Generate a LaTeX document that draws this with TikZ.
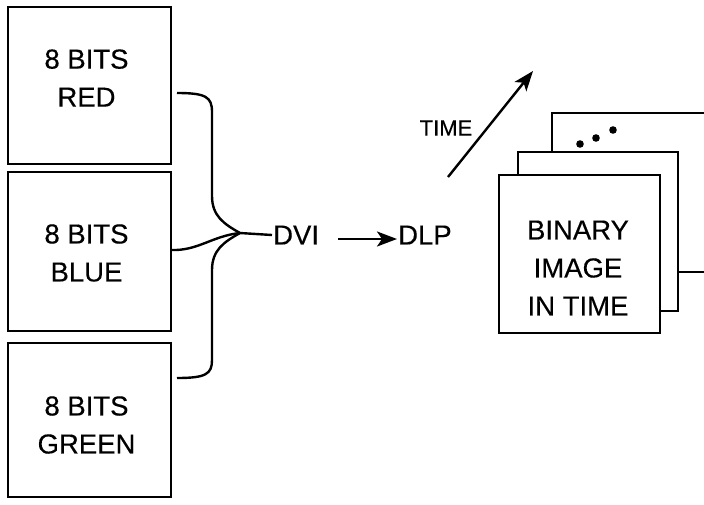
\documentclass[tikz,border=0pt]{standalone}
\usepackage{fontspec}
\setmainfont{Liberation Sans}[FakeBold=0.3]
\usetikzlibrary{arrows.meta}
\begin{document}
\begin{tikzpicture}[x=1pt,y=-1pt,line width=2.4pt,
  box/.style={draw,fill=white,line width=2.4pt},
  lbl/.style={font=\fontsize{27.5}{38}\selectfont,align=center,inner sep=0pt},
  arr/.style={-{Stealth[length=20pt,width=15pt,inset=5pt]},line width=2.4pt}]
\useasboundingbox (0,0) rectangle (704,504);
\clip (0,0) rectangle (704,504);
% left boxes
\node[box,minimum width=163pt,minimum height=157pt,inner sep=0pt] (red) at (89.5,85.5) {};
\node[box,minimum width=163pt,minimum height=159pt,inner sep=0pt] (blue) at (89.5,251.5) {};
\node[box,minimum width=163pt,minimum height=154pt,inner sep=0pt] (green) at (89.5,420) {};
\node[lbl] (redt) at (86.5,78) {8 BITS\\RED};
\node[lbl] (bluet) at (86.5,253) {8 BITS\\BLUE};
\node[lbl] (greent) at (86.5,425) {8 BITS\\GREEN};
% brace
\coordinate (tip) at (240,233);
\coordinate (ra) at (177,93);
\coordinate (ga) at (177,378);
\coordinate (ba) at (171,250);
\draw (ra) .. controls (206,93) and (212,97) .. (212,112) -- (212,196)
  .. controls (212,216) and (224,224) .. (tip);
\draw (tip) .. controls (224,242) and (212,250) .. (212,270) -- (212,360)
  .. controls (212,374) and (206,378) .. (ga);
\draw (ba) .. controls (198,251) and (212,236) .. (tip);
\node[lbl,anchor=west] (dvi) at (272,235) {DVI};
\draw (tip) -- (dvi.west);
\node[lbl,anchor=west] (dlp) at (397,235) {DLP};
\draw[arr] (338,239) -- (dlp.west |- 0,239);
% time arrow
\coordinate (t0) at (448,177);
\coordinate (t1) at (533,71);
\draw[arr] (t0) -- (t1);
\node[lbl,font=\fontsize{22}{25}\selectfont] (timel) at (446,128) {TIME};
% stacked frames
\draw[box] (552,113) rectangle (720,272);
\draw[box] (518,152) rectangle (678,311);
\node[box,minimum width=161pt,minimum height=158pt,inner sep=0pt] (front) at (579.5,254) {};
\node[lbl] (bint) at (578,268) {BINARY\\IMAGE\\IN TIME};
\fill (580,144) circle (3.8pt) (596,138) circle (3.8pt) (613,130) circle (3.8pt);
\end{tikzpicture}
\end{document}
